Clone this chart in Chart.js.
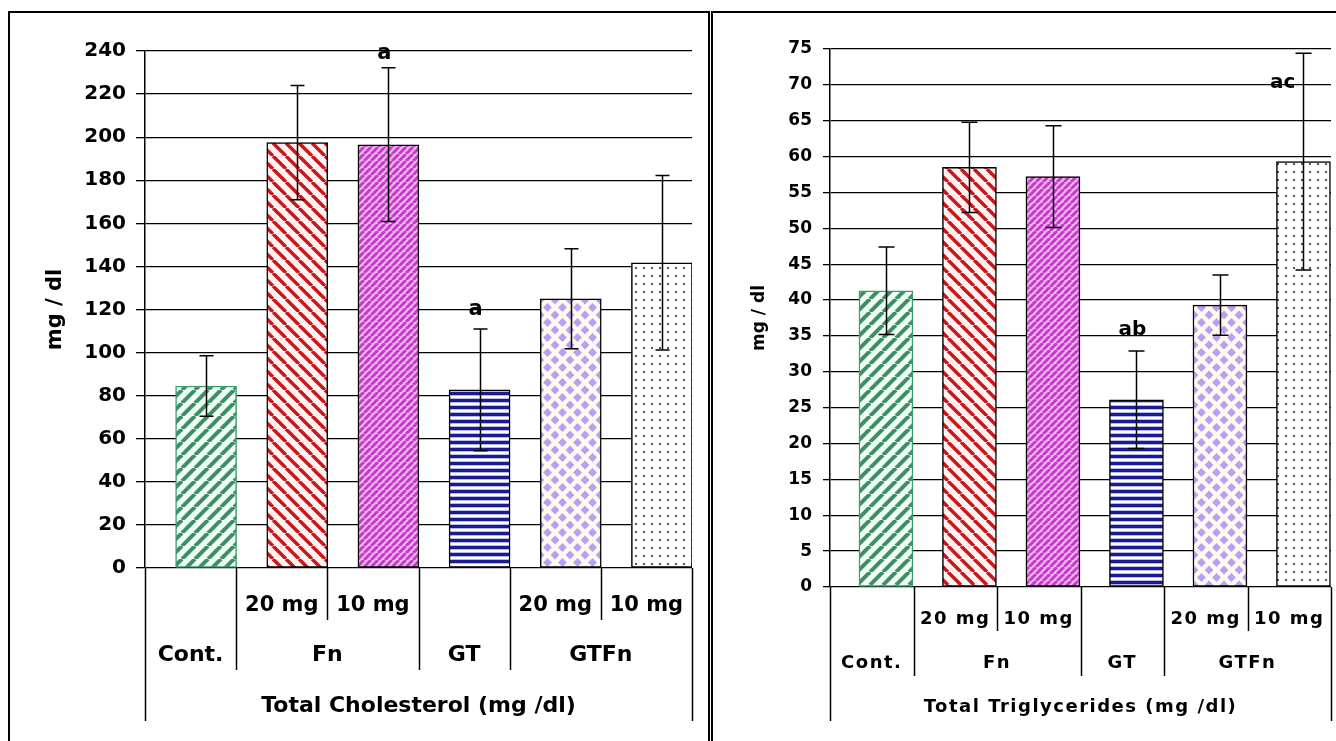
<!DOCTYPE html>
<html>
<head>
<meta charset="utf-8">
<script src="https://cdn.jsdelivr.net/npm/chart.js@4.4.0/dist/chart.umd.min.js"></script>
<style>
  html, body { margin: 0; padding: 0; background: #fff; overflow: hidden; }
  body { width: 1336px; height: 741px; position: relative; }
  .caja { position: absolute; box-sizing: border-box; border: 2px solid #000; border-bottom: none; }
  #caja-col { left: 8px; top: 11px; width: 702px; height: 740px; }
  #caja-tg { left: 711px; top: 11px; width: 700px; height: 740px; }
  canvas { position: absolute; top: 0; }
  #grafica-col { left: 0; }
  #grafica-tg { left: 714px; }
</style>
</head>
<body>
<div class="caja" id="caja-col"></div>
<div class="caja" id="caja-tg"></div>
<canvas id="grafica-col" width="710" height="741"></canvas>
<canvas id="grafica-tg" width="622" height="741"></canvas>
<script>
// --- Datos ---
const grupos = ["Cont.", "Fn", "GT", "GTFn"];
const grupoSpan = [1, 2, 1, 2];          // barras que abarca cada grupo
const dosis = ["", "20 mg", "10 mg", "", "20 mg", "10 mg"];

const colesterol = [84.5, 197.5, 196.5, 82.7, 125, 141.7];
const colesterolErr = [14, 26.5, 35.7, 28.3, 23.2, 40.5];
const colesterolSig = ["", "", "a", "a", "", ""];
const colesterolSigEn = [null, null, 239, 120, null, null];

const trigliceridos = [41.3, 58.5, 57.2, 26.1, 39.3, 59.3];
const trigliceridosErr = [6.1, 6.3, 7.1, 6.8, 4.2, 15.1];
const trigliceridosSig = ["", "", "", "ab", "", "ac"];
const trigliceridosSigEn = [null, null, null, 35.9, null, 70.3];

const FUENTE = "DejaVu Sans";
const POS_BARRA = 0.67;   // las barras quedan a la derecha de cada casilla (como en Excel)

// --- Tramas de relleno ---
function trama(w, h, dibujar) {
    const c = document.createElement("canvas");
    c.width = w; c.height = h;
    const g = c.getContext("2d");
    dibujar(g, w, h);
    return g.createPattern(c, "repeat");
}

function rayas(p, fondo, color, grosor, sentido) {
    return trama(p, p, (g) => {
        g.fillStyle = fondo;
        g.fillRect(0, 0, p, p);
        g.strokeStyle = color;
        g.lineWidth = grosor;
        for (let k = -1; k <= 1; k++) {
            g.beginPath();
            if (sentido === "/") { g.moveTo(k * p, p); g.lineTo(k * p + p, 0); }
            else { g.moveTo(k * p, 0); g.lineTo(k * p + p, p); }
            g.stroke();
        }
    });
}

function crearTramas() {
    const verde = rayas(13, "#effff5", "#3f8f66", 4, "/");
    const rojo = rayas(13, "#fff2f4", "#c81818", 3.4, "\\");
    const magenta = rayas(7, "#f4b4f2", "#c23cc8", 3, "/");
    const azul = trama(7, 7, (g) => {
        g.fillStyle = "#ffffff"; g.fillRect(0, 0, 7, 7);
        g.fillStyle = "#1a1a94"; g.fillRect(0, 0, 7, 3);
        g.fillStyle = "#b8b8e6"; g.fillRect(0, 3, 7, 1); g.fillRect(0, 6, 7, 1);
    });
    const rombos = trama(15, 15, (g) => {
        g.fillStyle = "#fffaf0"; g.fillRect(0, 0, 15, 15);
        g.fillStyle = "#b89ff4";
        const centros = [[7.5, 7.5], [0, 0], [15, 0], [0, 15], [15, 15]];
        centros.forEach(([cx, cy]) => {
            g.beginPath();
            g.moveTo(cx, cy - 4.4); g.lineTo(cx + 4.4, cy);
            g.lineTo(cx, cy + 4.4); g.lineTo(cx - 4.4, cy);
            g.closePath(); g.fill();
        });
    });
    const puntos = trama(8, 8, (g) => {
        g.fillStyle = "#ffffff"; g.fillRect(0, 0, 8, 8);
        g.fillStyle = "#555555"; g.fillRect(3, 3, 2, 2);
    });
    return [verde, rojo, magenta, azul, rombos, puntos];
}

const bordes = ["#3c9d6c", "#000", "#000", "#000", "#000", "#000"];

// --- Plugin: barras de error, letras, tabla de categorías y título del eje ---
function extrasExcel(cfg) {
    return {
        id: "extrasExcel",
        afterDatasetsDraw(chart) {
            const ctx = chart.ctx;
            const y = chart.scales.y;
            const meta = chart.getDatasetMeta(0);
            ctx.save();
            ctx.strokeStyle = "#000";
            ctx.lineWidth = 1.5;
            meta.data.forEach((barra, i) => {
                const x = Math.round(barra.x) + 0.5;
                const yArr = y.getPixelForValue(cfg.valores[i] + cfg.errores[i]);
                const yAba = y.getPixelForValue(cfg.valores[i] - cfg.errores[i]);
                ctx.beginPath();
                ctx.moveTo(x, yArr); ctx.lineTo(x, yAba);
                ctx.moveTo(x - cfg.tapa, yArr); ctx.lineTo(x + cfg.tapa, yArr);
                ctx.moveTo(x - cfg.tapa, yAba); ctx.lineTo(x + cfg.tapa, yAba);
                ctx.stroke();

                if (cfg.sig[i]) {
                    ctx.fillStyle = "#000";
                    ctx.font = "bold " + cfg.sigTam + "px '" + FUENTE + "'";
                    ctx.textBaseline = "middle";
                    const ySig = y.getPixelForValue(cfg.sigEn[i]);
                    if (cfg.sigEn[i] < cfg.valores[i] + cfg.errores[i]) {
                        ctx.textAlign = "right";
                        ctx.fillText(cfg.sig[i], barra.x - 8, ySig);
                    } else {
                        ctx.textAlign = "center";
                        ctx.fillText(cfg.sig[i], barra.x - 4, ySig);
                    }
                }
            });
            ctx.restore();
        },
        afterDraw(chart) {
            const ctx = chart.ctx;
            const area = chart.chartArea;
            const n = dosis.length;
            const w = (area.right - area.left) / n;
            const base = area.bottom;

            // separadores
            const limitesGrupo = [0];
            grupoSpan.forEach(s => limitesGrupo.push(limitesGrupo[limitesGrupo.length - 1] + s));
            ctx.save();
            ctx.strokeStyle = "#000";
            ctx.lineWidth = 1.5;
            for (let k = 0; k <= n; k++) {
                let largo = cfg.lineaCorta;
                if (k === 0 || k === n) largo = cfg.lineaLarga;
                else if (limitesGrupo.includes(k)) largo = cfg.lineaMedia;
                const x = Math.round(area.left + k * w) + 0.5;
                ctx.beginPath();
                ctx.moveTo(x, base);
                ctx.lineTo(x, base + largo);
                ctx.stroke();
            }

            // textos
            ctx.fillStyle = "#000";
            ctx.textAlign = "center";
            ctx.textBaseline = "middle";
            ctx.letterSpacing = cfg.espaciado;
            ctx.font = "bold " + cfg.dosisTam + "px '" + FUENTE + "'";
            dosis.forEach((d, i) => {
                if (d) ctx.fillText(d, area.left + (i + 0.5) * w, base + cfg.fila1);
            });
            ctx.font = "bold " + cfg.grupoTam + "px '" + FUENTE + "'";
            let inicio = 0;
            grupos.forEach((gname, j) => {
                const centro = area.left + (inicio + grupoSpan[j] / 2) * w;
                ctx.fillText(gname, centro, base + cfg.fila2);
                inicio += grupoSpan[j];
            });
            ctx.font = "bold " + cfg.tituloTam + "px '" + FUENTE + "'";
            ctx.fillText(cfg.titulo, (area.left + area.right) / 2, base + cfg.fila3);
            ctx.letterSpacing = "0px";

            // título del eje Y
            ctx.translate(area.left - cfg.ejeTituloDist, (area.top + area.bottom) / 2);
            ctx.rotate(-Math.PI / 2);
            ctx.font = "bold " + cfg.ejeTituloTam + "px '" + FUENTE + "'";
            ctx.fillText("mg / dl", 0, 0);
            ctx.restore();
        }
    };
}

// --- Función genérica para graficar ---
function graficar(idCanvas, cfg) {
    const ctx = document.getElementById(idCanvas).getContext("2d");
    return new Chart(ctx, {
        type: "bar",
        data: {
            datasets: [{
                data: cfg.valores.map((v, i) => ({ x: i + POS_BARRA, y: v })),
                backgroundColor: crearTramas(),
                borderColor: bordes,
                borderWidth: 1.5,
                borderSkipped: false,
                barThickness: cfg.anchoBarra
            }]
        },
        options: {
            responsive: false,
            animation: false,
            devicePixelRatio: 1,
            layout: { padding: cfg.relleno },
            plugins: {
                legend: { display: false },
                tooltip: { enabled: false }
            },
            scales: {
                x: { type: "linear", min: 0, max: dosis.length, offset: false, display: false },
                y: {
                    min: 0,
                    max: cfg.yMax,
                    ticks: {
                        stepSize: cfg.yPaso,
                        padding: cfg.tickPad,
                        color: "#000",
                        font: { family: FUENTE, size: cfg.tickTam, weight: "bold" }
                    },
                    grid: { color: "#000", lineWidth: 1.3, tickLength: cfg.tickLargo },
                    border: { color: "#000", width: 1.5 },
                    afterFit: (s) => { s.width = cfg.ejeAncho; }
                }
            }
        },
        plugins: [extrasExcel(cfg)]
    });
}

// --- Inicialización ---
graficar("grafica-col", {
    valores: colesterol, errores: colesterolErr, sig: colesterolSig, sigEn: colesterolSigEn,
    titulo: "Total Cholesterol (mg /dl)",
    yMax: 240, yPaso: 20,
    relleno: { top: 51, right: 18, bottom: 173, left: 0 },
    ejeAncho: 145, tickPad: 10, tickLargo: 9, tickTam: 20,
    anchoBarra: 61, tapa: 7, sigTam: 21,
    dosisTam: 21, grupoTam: 22, tituloTam: 22, espaciado: "0px",
    fila1: 38, fila2: 87, fila3: 138,
    lineaCorta: 52, lineaMedia: 102, lineaLarga: 153,
    ejeTituloDist: 89, ejeTituloTam: 21
});

graficar("grafica-tg", {
    valores: trigliceridos, errores: trigliceridosErr, sig: trigliceridosSig, sigEn: trigliceridosSigEn,
    titulo: "Total Triglycerides (mg /dl)",
    yMax: 75, yPaso: 5,
    relleno: { top: 49, right: 5, bottom: 154, left: 0 },
    ejeAncho: 116, tickPad: 11, tickLargo: 7, tickTam: 17,
    anchoBarra: 54, tapa: 8, sigTam: 20,
    dosisTam: 18, grupoTam: 18, tituloTam: 18, espaciado: "1.5px",
    fila1: 32, fila2: 76, fila3: 120,
    lineaCorta: 44, lineaMedia: 89, lineaLarga: 134,
    ejeTituloDist: 70, ejeTituloTam: 17
});
</script>
</body>
</html>
